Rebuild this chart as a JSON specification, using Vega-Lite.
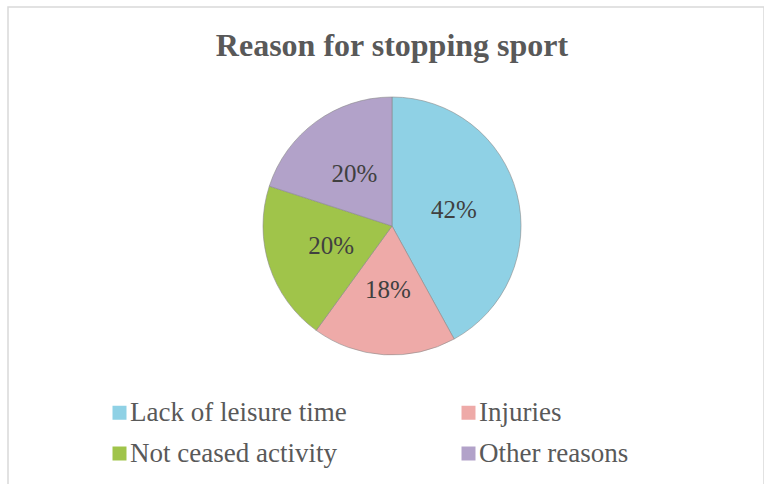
{
  "$schema": "https://vega.github.io/schema/vega-lite/v6.json",
  "width": 756,
  "height": 478,
  "autosize": {"type": "none"},
  "padding": {"left": 8, "top": 7, "right": 0, "bottom": 0},
  "background": "white",
  "view": {"stroke": "#d9d9d9", "strokeWidth": 1.5, "fill": "white"},
  "config": {"view": {"stroke": "#d9d9d9", "strokeWidth": 1.5}, "font": "Liberation Serif"},
  "title": {"text": "Reason for stopping sport", "fontSize": 32, "fontWeight": "bold", "color": "#595959", "font": "Liberation Serif", "anchor": "middle", "baseline": "alphabetic", "offset": -81, "dx": 6},
  "data": {"values": [
    {"reason": "Lack of leisure time", "value": 0.42, "idx": 1},
    {"reason": "Injuries", "value": 0.18, "idx": 2},
    {"reason": "Not ceased activity", "value": 0.20, "idx": 3},
    {"reason": "Other reasons", "value": 0.20, "idx": 4}
  ]},
  "layer": [
    {
      "mark": {"type": "arc", "outerRadius": 129, "x": {"expr": "width/2+6"}, "y": {"expr": "height/2-20"}, "stroke": "#8a8a8a", "strokeWidth": 0.6},
      "encoding": {
        "theta": {"field": "value", "type": "quantitative", "stack": true},
        "order": {"field": "idx", "type": "quantitative"},
        "color": {
          "field": "reason", "type": "nominal",
          "scale": {"domain": ["Lack of leisure time", "Injuries", "Not ceased activity", "Other reasons"], "range": ["#8fd1e5", "#eeaaa8", "#a0c44a", "#b2a2c9"]},
          "legend": {"orient": "none", "direction": "horizontal", "legendX": 98, "legendY": 392, "columns": 2, "columnPadding": 108, "rowPadding": 13, "symbolType": "square", "symbolSize": 196, "symbolStrokeWidth": 0, "symbolOpacity": 1, "labelFont": "Liberation Serif", "labelFontSize": 27, "labelColor": "#595959", "labelOffset": -3, "labelLimit": 400, "title": null}
        }
      }
    },
    {
      "mark": {"type": "text", "radius": 64, "x": {"expr": "width/2+6"}, "y": {"expr": "height/2-20"}, "fontSize": 25, "font": "Liberation Serif", "fill": "#404040"},
      "encoding": {
        "theta": {"field": "value", "type": "quantitative", "stack": true},
        "order": {"field": "idx", "type": "quantitative"},
        "detail": {"field": "reason", "type": "nominal"},
        "text": {"field": "value", "type": "quantitative", "format": ".0%"}
      }
    }
  ]
}
